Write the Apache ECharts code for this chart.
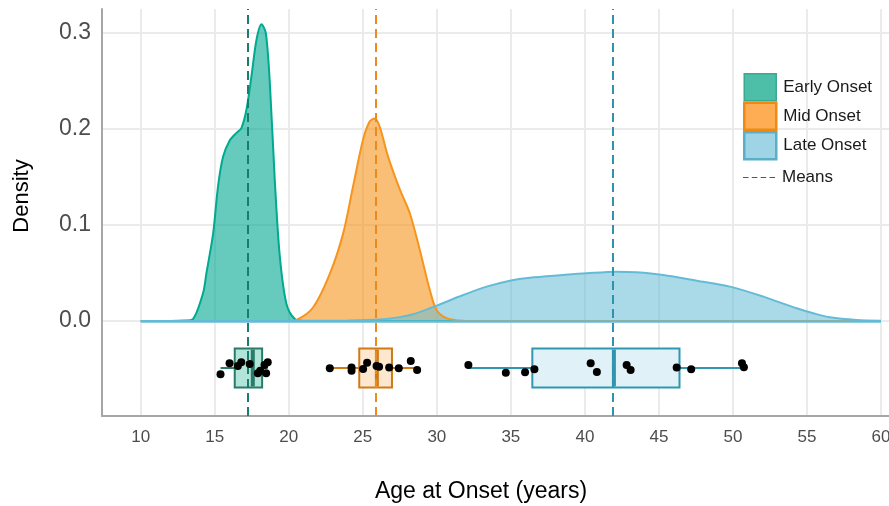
<!DOCTYPE html>
<html><head><meta charset="utf-8">
<script src="https://cdn.jsdelivr.net/npm/echarts@6/dist/echarts.min.js"></script>
<style>html,body{margin:0;padding:0;background:#fff}#c{width:889px;height:506px}</style>
</head><body><div id="c"></div>
<script>
// ---------- data ----------
const xTicks = [10, 15, 20, 25, 30, 35, 40, 45, 50, 55, 60];
const yTicks = [0, 0.1, 0.2, 0.3];
const groupNames = ['Early Onset', 'Mid Onset', 'Late Onset'];

const earlyAge     = [10, 12, 13, 13.53, 14.21, 14.44, 14.89, 15.22, 15.56, 16.01, 16.47, 16.80, 17.14, 17.48, 17.82, 18.16, 18.45, 18.72, 19.05, 19.39, 19.84, 20.41, 21, 60];
const earlyDensity = [0, 0, 0.0005, 0.002, 0.029, 0.050, 0.091, 0.140, 0.171, 0.188, 0.196, 0.201, 0.220, 0.255, 0.293, 0.309, 0.300, 0.248, 0.148, 0.068, 0.018, 0.002, 0, 0];

const midAge     = [10, 20, 20.52, 21.64, 22.77, 23.67, 24.34, 25.02, 25.47, 25.81, 26.15, 26.71, 27.50, 28.18, 28.85, 29.53, 29.98, 30.66, 31.76, 33, 60];
const midDensity = [0, 0, 0.001, 0.014, 0.049, 0.091, 0.140, 0.189, 0.208, 0.211, 0.202, 0.171, 0.137, 0.112, 0.074, 0.032, 0.0115, 0.003, 0.0003, 0, 0];

const lateAge     = [10, 20, 24, 26.15, 27.5, 28.4, 29.53, 30.0, 31.78, 33.36, 34.93, 36.28, 38.53, 40.11, 42.14, 43.49, 45.29, 47.55, 49.8, 52.05, 54.3, 55.43, 56.55, 58.36, 60];
const lateDensity = [0, 0.0001, 0.0005, 0.0015, 0.004, 0.007, 0.0132, 0.016, 0.027, 0.0358, 0.042, 0.0451, 0.0479, 0.0497, 0.0514, 0.0507, 0.0479, 0.042, 0.0358, 0.0254, 0.0132, 0.008, 0.0038, 0.001, 0.0002];

const groupMeans = [17.24, 25.88, 41.85];

// boxplot stats: [lower whisker, Q1, median, Q3, upper whisker]
const earlyBox = [15.39, 16.35, 17.57, 18.20, 18.58];
const midBox   = [22.77, 24.76, 25.95, 26.97, 28.67];
const lateBox  = [32.13, 36.45, 41.96, 46.39, 50.74];
const boxCenterY = -0.049;

// jittered raw observations
const earlyPointAge = [15.39, 16.00, 16.56, 16.79, 17.36, 17.91, 18.07, 18.47, 18.58, 18.36];
const earlyPointY   = [-0.0555, -0.044, -0.047, -0.043, -0.0448, -0.0545, -0.0518, -0.0545, -0.043, -0.0458];
const midPointAge = [22.77, 24.24, 24.24, 25.02, 25.29, 25.93, 26.10, 26.78, 27.43, 28.24, 28.67];
const midPointY   = [-0.0493, -0.0486, -0.0518, -0.050, -0.0434, -0.0469, -0.0476, -0.0486, -0.0493, -0.0417, -0.051];
const latePointAge = [32.13, 34.66, 35.96, 36.59, 40.39, 40.81, 42.82, 43.09, 46.20, 47.18, 50.61, 50.74];
const latePointY   = [-0.0458, -0.0539, -0.0534, -0.0503, -0.044, -0.0531, -0.0458, -0.051, -0.0486, -0.0503, -0.044, -0.0482];

// ---------- styles ----------
const FONT = 'Liberation Sans, Arial, sans-serif';
const lineColors = ['#00a98f', '#f7941d', '#64bbd6'];
const areaOpacity = [0.6, 0.6, 0.55];
const keyFill = ['#4dbfa9', '#ffad55', '#9ed4e5'];
const keyBorder = ['#3aa892', '#ee8a12', '#5aafc6'];
const meanColors = ['#187e6c', '#ec8a1e', '#2e93ad'];
const boxFill = ['#b2e5d9', '#fde8cf', '#e0f1f8'];
const boxStroke = ['#2a7b69', '#cf7a16', '#2f97b1'];
const BOX_HALF = 0.0203;

const zip = (a, b) => a.map((v, i) => [v, b[i]]);
const ageLists = [earlyAge, midAge, lateAge];
const densLists = [earlyDensity, midDensity, lateDensity];

const densitySeries = ageLists.map((ages, i) => {
  const s = {
    type: 'line', name: groupNames[i],
    data: zip(ages, densLists[i]),
    smooth: 0.3, symbol: 'none', silent: true,
    lineStyle: { color: lineColors[i], width: 2 },
    areaStyle: { color: lineColors[i], opacity: areaOpacity[i] },
    itemStyle: { color: keyFill[i] },
    z: 2
  };
  if (i === 2) {
    // full-polygon outline: the bottom edge of the last density along the baseline
    s.markLine = {
      silent: true, symbol: ['none', 'none'], label: { show: false }, z: 4,
      lineStyle: { color: lineColors[2], type: 'solid', width: 2.5 },
      data: [[{ coord: [ages[0], 0] }, { coord: [ages[ages.length - 1], 0] }]]
    };
  }
  return s;
});

const boxData = [earlyBox, midBox, lateBox].map((b, i) => [...b, boxCenterY, i]);

function renderBox(params, api) {
  const lo = api.value(0), q1 = api.value(1), med = api.value(2), q3 = api.value(3), hi = api.value(4);
  const yc = api.value(5), gi = api.value(6);
  const pLo = api.coord([lo, yc]);
  const pQ1 = api.coord([q1, yc + BOX_HALF]);
  const pQ3 = api.coord([q3, yc - BOX_HALF]);
  const pMed = api.coord([med, yc]);
  const pHi = api.coord([hi, yc]);
  const top = pQ1[1], bottom = pQ3[1], cy = pLo[1];
  return {
    type: 'group', children: [
      { type: 'line', shape: { x1: pLo[0], y1: cy, x2: pQ1[0], y2: cy }, style: { stroke: boxStroke[gi], lineWidth: 2 } },
      { type: 'line', shape: { x1: pQ3[0], y1: cy, x2: pHi[0], y2: cy }, style: { stroke: boxStroke[gi], lineWidth: 2 } },
      { type: 'rect', shape: { x: pQ1[0], y: top, width: pQ3[0] - pQ1[0], height: bottom - top }, style: { fill: boxFill[gi], stroke: boxStroke[gi], lineWidth: 2 } },
      { type: 'line', shape: { x1: pMed[0], y1: top + 1, x2: pMed[0], y2: bottom - 1 }, style: { stroke: boxStroke[gi], lineWidth: 4 } }
    ]
  };
}

const pointData = [].concat(zip(earlyPointAge, earlyPointY), zip(midPointAge, midPointY), zip(latePointAge, latePointY));

const chart = echarts.init(document.getElementById('c'), null, { renderer: 'canvas' });
chart.setOption({
  animation: false,
  backgroundColor: '#ffffff',
  textStyle: { fontFamily: FONT },
  grid: { left: 102, right: 0, top: 9, bottom: 90, outerBoundsMode: 'none' },
  xAxis: {
    type: 'value', min: 7.385, max: 60.54,
    axisLine: { onZero: false, lineStyle: { color: '#a6a6a6', width: 2 } },
    axisTick: { show: false, customValues: xTicks },
    axisLabel: { customValues: xTicks, fontSize: 17, color: '#4d4d4d', margin: 13 },
    splitLine: { show: true, lineStyle: { color: '#ebebeb', width: 2 } }
  },
  yAxis: {
    type: 'value', min: -0.099, max: 0.325,
    axisLine: { show: true, lineStyle: { color: '#a6a6a6', width: 2 } },
    axisTick: { show: false, customValues: yTicks },
    axisLabel: { customValues: yTicks, fontSize: 23, color: '#4d4d4d', margin: 11, formatter: v => v.toFixed(1) },
    splitLine: { show: true, lineStyle: { color: '#ebebeb', width: 2 } }
  },
  legend: [
    {
      orient: 'vertical', left: 743, top: 73, padding: 0,
      itemWidth: 32, itemHeight: 27, itemGap: 0,
      selectedMode: false,
      textStyle: { fontSize: 17, color: '#1a1a1a', padding: [0, 0, 0, 2] },
      data: [
        { name: groupNames[0], icon: 'rect', itemStyle: { color: keyFill[0], borderColor: keyBorder[0], borderWidth: 1.5 } },
        { name: groupNames[1], icon: 'rect', itemStyle: { color: keyFill[1], borderColor: keyBorder[1], borderWidth: 2.5 } },
        { name: groupNames[2], icon: 'rect', itemStyle: { color: keyFill[2], borderColor: keyBorder[2], borderWidth: 2.5 } }
      ]
    },
    {
      orient: 'vertical', left: 743, top: 169, padding: 0,
      itemWidth: 32, itemHeight: 16, selectedMode: false,
      textStyle: { fontSize: 17, color: '#1a1a1a', padding: [0, 0, 0, 2] },
      data: [
        { name: 'Means', icon: 'path://M0,0H5V1H0Z M8,0H13V1H8Z M16,0H21V1H16Z M24,0H29V1H24Z', itemStyle: { color: '#555555', borderWidth: 0 } }
      ]
    }
  ],
  graphic: [
    { type: 'text', x: 481, y: 492, style: { text: 'Age at Onset (years)', align: 'center', verticalAlign: 'middle', fontSize: 23, fill: '#000', fontFamily: FONT } },
    { type: 'text', rotation: Math.PI / 2, x: 22, y: 196, style: { text: 'Density', align: 'center', verticalAlign: 'middle', fontSize: 22, fill: '#000', fontFamily: FONT } }
  ],
  series: [
    ...densitySeries,
    {
      type: 'custom', name: 'boxes', renderItem: renderBox, data: boxData,
      encode: { x: [0, 1, 2, 3, 4], y: 5 }, silent: true, z: 3
    },
    {
      type: 'line', name: 'Means', data: [], symbol: 'none',
      lineStyle: { color: '#555555', type: 'dashed', width: 1 },
      markLine: {
        silent: true, symbol: ['none', 'none'], label: { show: false }, z: 5,
        data: groupMeans.map((m, i) => ({ xAxis: m, lineStyle: { color: meanColors[i], type: [9, 5], width: 2 } }))
      }
    },
    {
      type: 'scatter', name: 'points', data: pointData, symbolSize: 8,
      itemStyle: { color: '#000000', opacity: 1 }, silent: true, z: 6
    }
  ]
});
</script>
</body></html>
